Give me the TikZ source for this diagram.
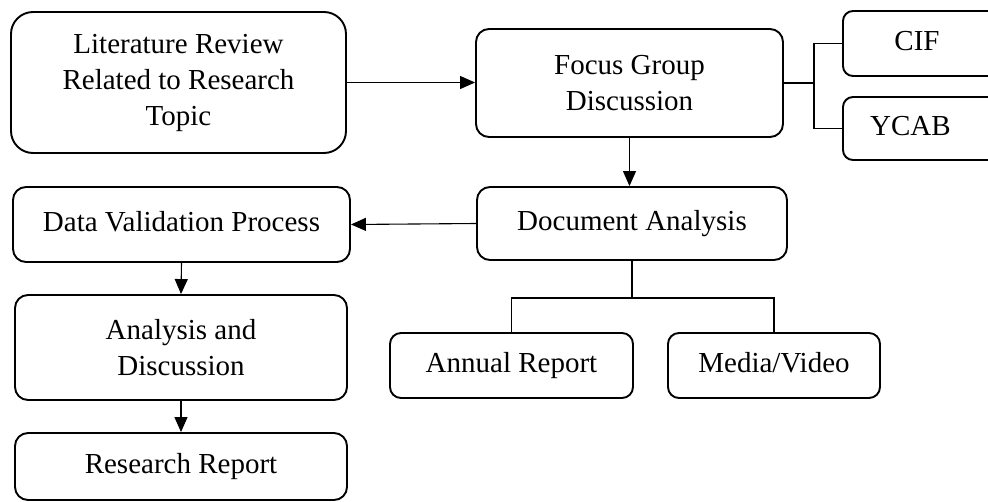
\documentclass[tikz,border=0pt]{standalone}
\usepackage{fontspec}
\setmainfont{Liberation Serif}
\usetikzlibrary{arrows.meta}
\begin{document}
\begin{tikzpicture}[x=1pt,y=-1pt,
  box/.style={draw, line width=1.9pt, rounded corners=13pt, align=center,
    inner sep=0pt, font=\fontsize{29}{36}\selectfont},
  one/.style={text height=20pt, text depth=6pt},
  txt/.style={inner sep=0pt, font=\fontsize{29}{36}\selectfont, text height=20pt, text depth=6pt},
  conn/.style={line width=1.1pt},
  arr/.style={conn, -{Triangle[length=15pt,width=13pt]}}]
\useasboundingbox (0,0) rectangle (988,501);
\clip (0,0) rectangle (988,501);
\node[box, rounded corners=22pt, minimum width=335pt, minimum height=141pt] (lit) at (178.5,82.5)
  {Literature Review\\Related to Research\\Topic};
\node[box, minimum width=307pt, minimum height=108pt] (focus) at (629.5,83)
  {Focus Group\\Discussion};
\node[box, rounded corners=10pt, minimum width=160pt, minimum height=65pt] (cif) at (923,43.5) {};
\node[txt] (ciftext) at (917,43.5) {CIF};
\node[box, rounded corners=10pt, minimum width=160pt, minimum height=63pt] (ycab) at (923,128.5) {};
\node[txt, anchor=west] (ycabtext) at (870,128) {YCAB};
\node[box, one, minimum width=310pt, minimum height=73pt] (docu) at (632,223.5) {Document Analysis};
\node[box, one, minimum width=337pt, minimum height=75pt] (dv) at (181.5,224.5) {Data Validation Process};
\node[box, minimum width=332pt, minimum height=105pt] (ana) at (181,347.5) {Analysis and\\Discussion};
\node[box, one, minimum width=332pt, minimum height=67pt] (rr) at (181,466.5) {Research Report};
\node[box, one, rounded corners=11pt, minimum width=243pt, minimum height=65pt] (ann) at (511.5,365.5) {Annual Report};
\node[box, one, rounded corners=11pt, minimum width=212pt, minimum height=65pt] (med) at (774,365.5) {Media/Video};

\draw[arr] (lit.east) -- (lit.east -| focus.west);
\draw[conn] (focus.east) -- ++(30,0) coordinate (fb) |- (cif.west);
\draw[conn] (fb) |- (ycab.west);
\draw[arr] (focus.south) -- (focus.south |- docu.north);
\draw[arr] (docu.west) -- (dv.east);
\draw[arr] (dv.south) -- (ana.north);
\draw[arr] (ana.south) -- (rr.north);
\draw[conn] (docu.south) -- ++(0,37) coordinate (db);
\draw[conn] (ann.north) |- (db) -| (med.north);
\end{tikzpicture}
\end{document}
